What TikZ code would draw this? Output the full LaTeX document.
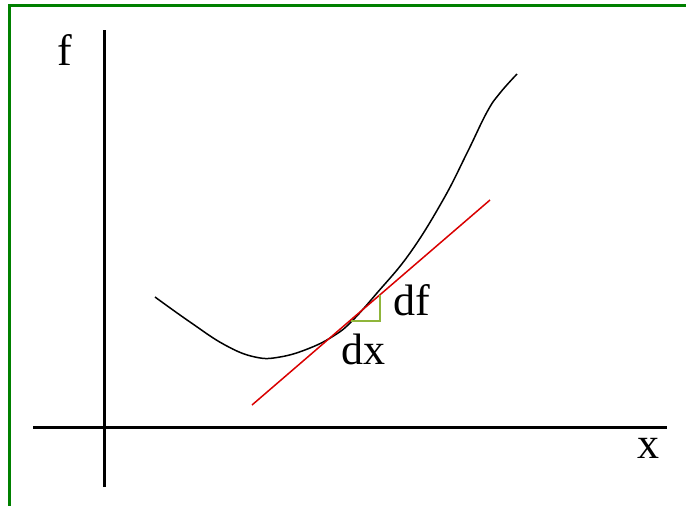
\documentclass[tikz,border=0pt]{standalone}
\usepackage{fontspec}
\setmainfont{Liberation Serif}
\begin{document}
\begin{tikzpicture}[x=0.5pt,y=-0.5pt]
\useasboundingbox (0,0) rectangle (686,505);
\draw[green!50!black,line width=1.5pt] (9,520) -- (9,5) -- (700,5);

\coordinate (ytop) at (104,30);
\coordinate (ybot) at (104,487);
\coordinate (xleft) at (33,427);
\coordinate (xright) at (667,427);
\draw[line width=1.5pt] (ybot) -- (ytop);
\draw[line width=1.5pt] (xleft) -- (xright);
\node (flab) at (65,50) {\fontsize{22}{26}\selectfont f};
\node (xlab) at (648,448) {\fontsize{22}{26}\selectfont x};

\draw[line width=0.75pt] plot[smooth,tension=0.7] coordinates {(155,297) (190,322) (225,345) (255,357) (280,357) (310,348) (335,335) (352,321) (377,293) (410,253) (443,200) (467,153) (487,112) (500,93) (517,74)};

\coordinate (ta) at (252,405);
\coordinate (tb) at (490,200);
\draw[red!85!black,line width=0.75pt] (ta) -- (tb);

\coordinate (p) at (351,321);
\coordinate (q) at (380,321);
\coordinate (r) at (380,295);
\draw[yellow!60!green!80!black,line width=1pt] (p) -- (q) -- (r);
\node (df) at (412,300) {\fontsize{22}{26}\selectfont df};
\node (dx) at (363,349) {\fontsize{22}{26}\selectfont dx};
\end{tikzpicture}
\end{document}
